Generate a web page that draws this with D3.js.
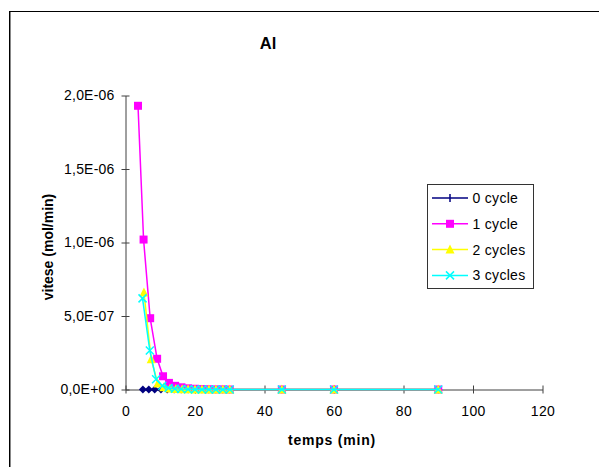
<!DOCTYPE html>
<html><head><meta charset="utf-8">
<script src="https://cdn.jsdelivr.net/npm/d3@7"></script>
<style>body{margin:0;background:#fff}svg{display:block;font-family:"Liberation Sans",Arial,sans-serif}</style>
</head><body><svg id="c" width="599" height="467"></svg>
<script>
const title = "Al";
const xLabel = "temps (min)";
const yLabel = "vitese (mol/min)";
const xTicks = [0, 20, 40, 60, 80, 100, 120];
const yTicks = [0, 5e-7, 1e-6, 1.5e-6, 2e-6];
const yTickLabels = ["0,0E+00", "5,0E-07", "1,0E-06", "1,5E-06", "2,0E-06"];
const seriesNames = ["0 cycle", "1 cycle", "2 cycles", "3 cycles"];
const seriesColors = ["#000080", "#ff00ff", "#ffff00", "#00ffff"];
const seriesMarkers = ["diamond", "square", "triangle", "cross"];

const t0 = [5.0, 6.7, 8.4, 10.2, 12, 14, 16, 18, 20, 22, 24, 26, 28, 30, 45, 60, 90];
const v0 = [0, 0, 0, 0, 0, 0, 0, 0, 0, 0, 0, 0, 0, 0, 0, 0, 0];
const t1 = [3.6, 5.2, 7.1, 9.1, 10.8, 12.5, 14.3, 16.1, 18, 20, 22, 24, 26, 28, 30, 45, 60, 90];
const v1 = [1.93e-6, 1.02e-6, 4.85e-7, 2.09e-7, 9e-8, 4.5e-8, 2.5e-8, 1.5e-8, 8e-9, 5e-9, 3e-9, 2e-9, 1e-9, 1e-9, 0, 0, 0, 0];
const t2 = [5.3, 7.4, 9.3, 11, 12.8, 14.5, 16.3, 18, 20, 22, 24, 26, 28, 30, 45, 60, 90];
const v2 = [6.6e-7, 2.05e-7, 4e-8, 1.5e-8, 6e-9, 3e-9, 2e-9, 1e-9, 0, 0, 0, 0, 0, 0, 0, 0, 0];
const t3 = [4.9, 7.0, 8.8, 10.6, 12.4, 14.2, 16, 18, 20, 22, 24, 26, 28, 30, 45, 60, 90];
const v3 = [6.2e-7, 2.65e-7, 7e-8, 2.5e-8, 1e-8, 5e-9, 3e-9, 2e-9, 1e-9, 0, 0, 0, 0, 0, 0, 0, 0];
const seriesT = [t0, t1, t2, t3];
const seriesV = [v0, v1, v2, v3];

const svg = d3.select("#c");
// outer frame
svg.append("rect").attr("x", 9.5).attr("y", 11.5).attr("width", 620).attr("height", 480)
  .attr("fill", "none").attr("stroke", "#000").attr("stroke-width", 1);
svg.append("line").attr("x1", 10.5).attr("x2", 10.5).attr("y1", 12).attr("y2", 467)
  .attr("stroke", "#888").attr("stroke-width", 1);

const x = d3.scaleLinear().domain([0, 120]).range([125.5, 542.5]);
const y = d3.scaleLinear().domain([0, 2e-6]).range([389.5, 95.5]);

const axisColor = "#404040";
const tickFont = 14;
// x axis
const gx = svg.append("g").attr("transform", `translate(0,${y(0)})`)
  .call(d3.axisBottom(x).tickValues(xTicks).tickSize(0).tickPadding(17));
gx.select(".domain").attr("stroke", axisColor);
gx.selectAll(".tick line").remove();
gx.selectAll(".tick").append("line").attr("y1", -4).attr("y2", 4).attr("stroke", axisColor);
gx.selectAll("text").attr("font-size", tickFont).attr("letter-spacing", 0.4).attr("fill", "#000").attr("font-family", "Liberation Sans, Arial");
// y axis
const gy = svg.append("g").attr("transform", `translate(${x(0)},0)`)
  .call(d3.axisLeft(y).tickValues(yTicks).tickFormat((d, i) => yTickLabels[i]).tickSize(0).tickPadding(11));
gy.select(".domain").attr("stroke", axisColor);
gy.selectAll(".tick").append("line").attr("x1", -4).attr("x2", 4).attr("stroke", axisColor);
gy.selectAll("text").attr("font-size", tickFont).attr("letter-spacing", 0.2).attr("fill", "#000").attr("font-family", "Liberation Sans, Arial");

// titles
svg.append("text").attr("x", 268).attr("y", 49).attr("text-anchor", "middle")
  .attr("font-weight", "bold").attr("font-size", 16.5).text(title);
svg.append("text").attr("x", 332).attr("y", 445).attr("text-anchor", "middle")
  .attr("font-weight", "bold").attr("font-size", 14).attr("letter-spacing", 0.8).text(xLabel);
svg.append("text").attr("transform", "translate(53,247) rotate(-90)").attr("text-anchor", "middle")
  .attr("font-weight", "bold").attr("font-size", 14).text(yLabel);

function marker(g, type, color, cx, cy) {
  if (type === "diamond") {
    g.append("path").attr("d", `M${cx},${cy-4}L${cx+4},${cy}L${cx},${cy+4}L${cx-4},${cy}Z`).attr("fill", color);
  } else if (type === "square") {
    g.append("rect").attr("x", cx-4).attr("y", cy-4).attr("width", 8).attr("height", 8).attr("fill", color);
  } else if (type === "triangle") {
    g.append("path").attr("d", `M${cx},${cy-5}L${cx+4.5},${cy+4}L${cx-4.5},${cy+4}Z`).attr("fill", color);
  } else if (type === "cross") {
    g.append("path").attr("d", `M${cx-4},${cy-4}L${cx+4},${cy+4}M${cx+4},${cy-4}L${cx-4},${cy+4}`)
      .attr("stroke", color).attr("stroke-width", 1.5).attr("fill", "none");
  } else if (type === "plus") {
    g.append("path").attr("d", `M${cx},${cy-4}L${cx},${cy+4}`).attr("stroke", color).attr("stroke-width", 1.5);
  }
}

const line = d3.line().x(d => x(d[0])).y(d => y(d[1]));
seriesNames.forEach((name, i) => {
  const pts = seriesT[i].map((t, j) => [t, seriesV[i][j]]);
  const g = svg.append("g");
  g.append("path").attr("d", line(pts)).attr("fill", "none")
    .attr("stroke", seriesColors[i]).attr("stroke-width", 1.5);
  pts.forEach(p => marker(g, seriesMarkers[i], seriesColors[i], x(p[0]), y(p[1])));
});

// legend
const lg = svg.append("g");
lg.append("rect").attr("x", 427.5).attr("y", 184.5).attr("width", 106).attr("height", 104)
  .attr("fill", "#fff").attr("stroke", "#333");
const legendMarkers = ["plus", "square", "triangle", "cross"];
seriesNames.forEach((name, i) => {
  const yy = 198 + i * 25.8;
  lg.append("line").attr("x1", 432).attr("x2", 468).attr("y1", yy).attr("y2", yy)
    .attr("stroke", seriesColors[i]).attr("stroke-width", 1.5);
  marker(lg, legendMarkers[i], seriesColors[i], 450, yy);
  lg.append("text").attr("x", 472.5).attr("y", yy + 5).attr("font-size", 14).attr("letter-spacing", 0.3).text(name);
});
</script></body></html>
